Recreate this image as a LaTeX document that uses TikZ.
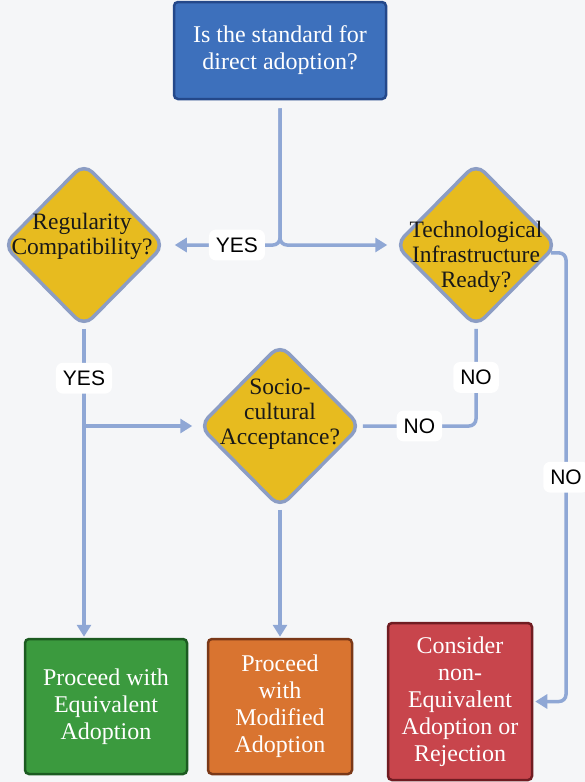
\documentclass[tikz,border=0pt]{standalone}
\usepackage{fontspec}
\setmainfont{Liberation Serif}
\setsansfont{Liberation Sans}
\usetikzlibrary{
  shapes.geometric, % Shape "diamond"
  arrows.meta,      % Arrow tip "Triangle"
}
\definecolor{bgcol}{HTML}{F5F6F8}
\definecolor{linecol}{HTML}{8FA7D5}
\definecolor{startfill}{HTML}{3D70BC}
\definecolor{startdraw}{HTML}{24488A}
\definecolor{qfill}{HTML}{E7BB1F}
\definecolor{qdraw}{HTML}{8C9DC4}
\definecolor{eqfill}{HTML}{3B9A3E}
\definecolor{eqdraw}{HTML}{1C5B21}
\definecolor{modfill}{HTML}{D97430}
\definecolor{moddraw}{HTML}{7A3818}
\definecolor{rejfill}{HTML}{C8454C}
\definecolor{rejdraw}{HTML}{701C22}
\def\myboxfont{\fontsize{24}{27}\selectfont}
\def\myqfont{\fontsize{23.5}{25}\selectfont}
\def\mylblfont{\sffamily\fontsize{21}{21}\selectfont}
\tikzset{
  >={Triangle[length=12pt,width=14pt]},
  flow/.style={
    draw=linecol,
    line width=3.5pt,
    rounded corners=7pt
  },
  my box/.style={
    rectangle,
    rounded corners=4pt,
    line width=2.5pt,
    inner sep=0pt,
    align=center,
    text=white,
    font=\myboxfont
  },
  my question/.style={
    diamond,
    draw=qdraw,
    fill=qfill,
    line width=3.5pt,
    rounded corners=12pt,
    minimum width=162pt,
    minimum height=164pt,
    inner sep=0pt
  },
  my question text/.style={
    align=center,
    text=black!90,
    font=\myqfont,
    inner sep=0pt
  },
  answer/.style={
    fill=white,
    text=black,
    font=\mylblfont,
    inner xsep=7pt,
    inner ysep=8pt
  }
}

\begin{document}
\begin{tikzpicture}[x=1pt,y=-1pt]
\fill[bgcol] (0,0) rectangle (585,782);
\useasboundingbox (0,0) rectangle (585,782);
% questions
\node[my box,fill=startfill,draw=startdraw,minimum width=212pt,minimum height=97pt]
  (std) at (280,50.5) {Is the standard for\\direct adoption?};
\node[my question] (reg) at (84,245) {};
\node[my question text] (regtxt) at (82,236) {Regularity\\Compatibility?};
\node[my question] (tech) at (476,245) {};
\node[my question text] (techtxt) at (476,257) {Technological\\Infrastructure\\Ready?};
\node[my question] (socio) at (280,426) {};
\node[my question text] (sociotxt) at (280,414) {Socio-\\cultural\\Acceptance?};
% outcomes
\node[my box,fill=eqfill,draw=eqdraw,minimum width=162pt,minimum height=135pt]
  (equiv) at (106,706.5) {Proceed with\\Equivalent\\Adoption};
\node[my box,fill=modfill,draw=moddraw,minimum width=144pt,minimum height=135pt]
  (modif) at (280,706.5) {Proceed\\with\\Modified\\Adoption};
\node[my box,fill=rejfill,draw=rejdraw,minimum width=144pt,minimum height=157pt]
  (reject) at (460,701.5) {Consider\\non-\\Equivalent\\Adoption or\\Rejection};
\coordinate (rcol) at (566,0);
% connectors
\draw[flow,->,shorten <=8pt,shorten >=8pt]
  (std.south) |- node[answer,pos=0.69] {YES} (reg.east);
\draw[flow,->,shorten <=8pt,shorten >=6pt] (std.south) |- (tech.west);
\draw[flow,->,shorten >=1pt]
  (reg.south) -- node[answer,pos=0.16] {YES} (reg.south |- equiv.north);
\draw[flow,->,shorten >=5pt] (reg.south |- socio.west) -- (socio.west);
\draw[flow]
  (tech.south) |- node[answer,pos=0.25] {NO} node[answer,pos=0.75] {NO} (socio.east);
\draw[flow,->,shorten >=2pt]
  (tech.-6) -- (tech.-6 -| rcol) |- node[answer,pos=0.25] {NO} (reject.east);
\draw[flow,->,shorten >=1pt] (socio.south) -- (socio.south |- modif.north);
\end{tikzpicture}
\end{document}
